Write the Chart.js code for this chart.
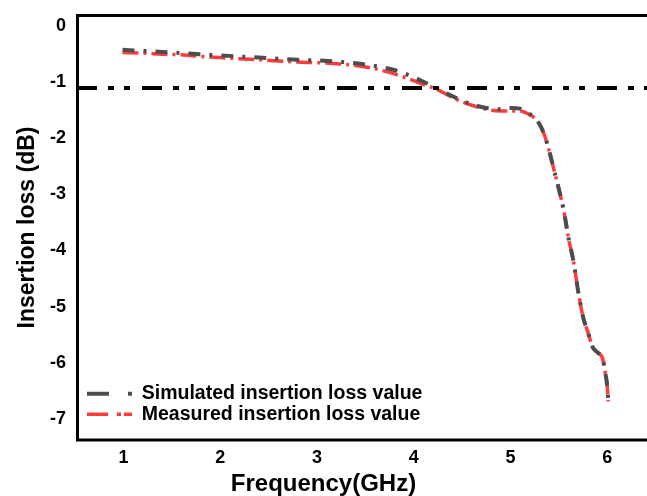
<!DOCTYPE html>
<html>
<head>
<meta charset="utf-8">
<script src="https://cdn.jsdelivr.net/npm/chart.js@4.4.1/dist/chart.umd.min.js"></script>
<style>
  html, body { margin: 0; padding: 0; background: #fff; }
  #wrap { width: 647px; height: 496px; }
</style>
</head>
<body>
<div id="wrap"><canvas id="lossChart"></canvas></div>
<script>
// Insertion loss vs frequency (simulated / measured)
const freqGHz = [0.99, 1.2, 1.4, 1.6, 1.8, 2.0, 2.2, 2.4, 2.6, 2.8, 3.0, 3.2, 3.4, 3.6, 3.8, 3.9, 4.0, 4.1,
  4.2, 4.3, 4.4, 4.5, 4.6, 4.7, 4.8, 4.9, 5.0, 5.1, 5.2, 5.25, 5.3, 5.35, 5.4, 5.45, 5.5, 5.55, 5.6,
  5.65, 5.7, 5.75, 5.8, 5.85, 5.9, 5.95, 5.98, 6.0, 6.01];
const simulatedLoss = [-0.42, -0.44, -0.46, -0.48, -0.5, -0.52, -0.54, -0.56, -0.58, -0.6, -0.61, -0.63,
  -0.66, -0.71, -0.78, -0.84, -0.91, -0.99, -1.07, -1.16, -1.25, -1.33, -1.39, -1.44, -1.47, -1.48, -1.46,
  -1.47, -1.57, -1.63, -1.75, -1.94, -2.23, -2.57, -2.91, -3.29, -3.79, -4.19, -4.74, -5.19, -5.46, -5.73,
  -5.82, -5.92, -6.19, -6.44, -6.69];
const measuredLoss = [-0.47, -0.48, -0.5, -0.51, -0.54, -0.56, -0.58, -0.6, -0.62, -0.64, -0.65, -0.67,
  -0.7, -0.76, -0.85, -0.91, -0.97, -1.04, -1.1, -1.18, -1.27, -1.35, -1.41, -1.46, -1.5, -1.51, -1.51,
  -1.51, -1.58, -1.64, -1.75, -1.94, -2.23, -2.57, -2.91, -3.29, -3.79, -4.19, -4.74, -5.19, -5.46, -5.73,
  -5.82, -5.92, -6.19, -6.44, -6.69];
const refLevel = -1.1;
const xRange = [0.52, 6.41];
const yRange = [-7.38, 0.2];
const xTicks = [1, 2, 3, 4, 5, 6];
const yTicks = [0, -1, -2, -3, -4, -5, -6, -7];
const seriesNames = ['Simulated insertion loss value', 'Measured insertion loss value'];

const FONT = "'Liberation Sans', Arial, sans-serif";

const toPoints = (xs, ys) => xs.map((x, i) => ({x: x, y: ys[i]}));

// black frame: top, left, bottom (right side runs off the picture)
const framePlugin = {
  id: 'frame',
  afterDatasetsDraw(chart) {
    const {ctx, chartArea} = chart;
    const l = chartArea.left + 0.5, t = chartArea.top + 0.5, b = chartArea.bottom;
    ctx.save();
    ctx.strokeStyle = '#000';
    ctx.lineWidth = 3;
    ctx.lineCap = 'square';
    ctx.beginPath();
    ctx.moveTo(chart.width + 5, t);
    ctx.lineTo(l, t);
    ctx.lineTo(l, b);
    ctx.lineTo(chart.width + 5, b);
    ctx.stroke();
    ctx.restore();
  }
};

const chart = new Chart(document.getElementById('lossChart'), {
  type: 'line',
  data: {
    datasets: [
      {
        label: 'reference',
        data: toPoints(xRange, [refLevel, refLevel]),
        borderColor: '#000',
        borderWidth: 4,
        borderDash: [20, 11, 6, 10, 6, 12],
        pointRadius: 0
      },
      {
        label: seriesNames[0],
        data: toPoints(freqGHz, simulatedLoss),
        borderColor: '#4d4d4d',
        borderWidth: 4,
        borderDash: [12, 9, 3, 9],
        cubicInterpolationMode: 'monotone',
        pointRadius: 0
      },
      {
        label: seriesNames[1],
        data: toPoints(freqGHz, measuredLoss),
        borderColor: '#ff3b3b',
        borderWidth: 3.5,
        borderDash: [16, 5, 3, 5],
        cubicInterpolationMode: 'monotone',
        pointRadius: 0
      }
    ]
  },
  options: {
    responsive: true,
    maintainAspectRatio: false,
    animation: false,
    devicePixelRatio: 1,
    layout: { padding: { top: 15, right: 0, bottom: 0, left: 0 } },
    scales: {
      x: {
        type: 'linear',
        min: xRange[0],
        max: xRange[1],
        afterBuildTicks: s => { s.ticks = xTicks.map(v => ({value: v})); },
        afterFit: s => { s.height = 32; s.paddingLeft = 0; s.paddingRight = 0; },
        grid: { display: false, drawTicks: false },
        border: { display: false },
        ticks: { color: '#000', padding: 7, font: { family: FONT, size: 18, weight: 'bold' } }
      },
      y: {
        min: yRange[0],
        max: yRange[1],
        afterBuildTicks: s => { s.ticks = yTicks.map(v => ({value: v})); },
        afterFit: s => { s.width = 77; s.paddingTop = 0; s.paddingBottom = 0; },
        grid: { display: false, drawTicks: false },
        border: { display: false },
        ticks: { color: '#000', padding: 11, font: { family: FONT, size: 18, weight: 'bold' } },
        title: {
          display: true,
          text: 'Insertion loss (dB)',
          color: '#000',
          padding: { top: 14, bottom: 0 },
          font: { family: FONT, size: 23, weight: 'bold' }
        }
      }
    },
    plugins: {
      title: {
        display: true,
        position: 'bottom',
        text: 'Frequency(GHz)',
        color: '#000',
        padding: 0,
        font: { family: FONT, size: 24, weight: 'bold', lineHeight: 1 }
      },
      legend: {
        position: 'chartArea',
        align: 'end',
        labels: {
          usePointStyle: true,
          pointStyleWidth: 54,
          padding: 1,
          color: '#000',
          font: { family: FONT, size: 19.5, weight: 'bold' },
          generateLabels: () => [
            { text: seriesNames[0], strokeStyle: '#4d4d4d', fillStyle: '#4d4d4d', lineWidth: 4,
              lineDash: [0, 9, 22, 19, 4, 100], pointStyle: 'line', datasetIndex: 1, hidden: false },
            { text: seriesNames[1], strokeStyle: '#ff3b3b', fillStyle: '#ff3b3b', lineWidth: 3.5,
              lineDash: [0, 9, 21, 9, 4, 3, 20, 100], pointStyle: 'line', datasetIndex: 2, hidden: false }
          ]
        }
      },
      tooltip: { enabled: false }
    }
  },
  plugins: [framePlugin]
});
</script>
</body>
</html>
